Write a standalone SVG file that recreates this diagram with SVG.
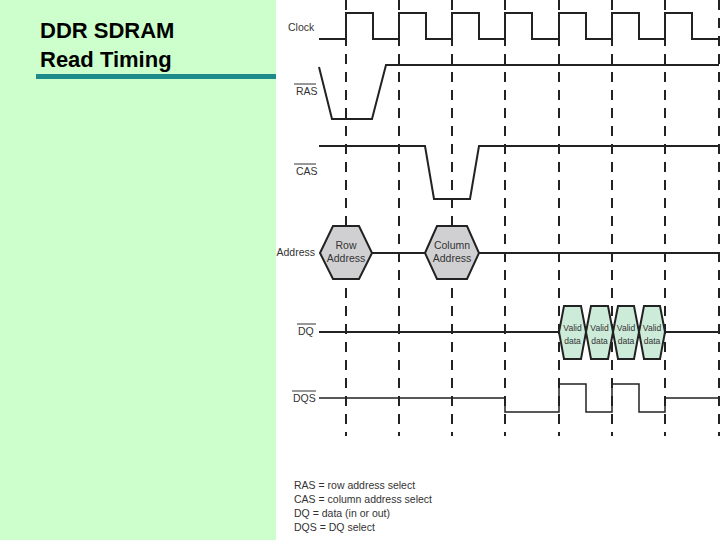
<svg xmlns="http://www.w3.org/2000/svg" width="720" height="540" viewBox="0 0 720 540">
<style>
.t{font-family:"Liberation Sans",Arial,sans-serif;font-size:10.5px;fill:#333}
.w{fill:none;stroke:#222;stroke-width:2}
.d{stroke:#222;stroke-width:2;stroke-dasharray:10,8}
.ov{stroke:#333;stroke-width:1}
</style>
<rect width="720" height="540" fill="#ccffcc"/>
<rect x="276" y="0" width="444" height="540" fill="#fff"/>
<g id="title">
<text x="40" y="38" font-family="Liberation Sans,Arial,sans-serif" font-weight="bold" font-size="22" fill="#000">DDR SDRAM</text>
<text x="40" y="67" font-family="Liberation Sans,Arial,sans-serif" font-weight="bold" font-size="22" fill="#000">Read Timing</text>
<rect x="36" y="74" width="240" height="5" fill="#1f8a8a"/>
</g>
<g id="grid">
<line class="d" x1="346" y1="0" x2="346" y2="436"/>
<line class="d" x1="399" y1="0" x2="399" y2="436"/>
<line class="d" x1="452" y1="0" x2="452" y2="436"/>
<line class="d" x1="505" y1="0" x2="505" y2="436"/>
<line class="d" x1="559" y1="0" x2="559" y2="436"/>
<line class="d" x1="612" y1="0" x2="612" y2="436"/>
<line class="d" x1="665" y1="0" x2="665" y2="436"/>
<line class="d" x1="719" y1="0" x2="719" y2="436"/>
</g>
<g id="clock">
<text class="t" x="288" y="31">Clock</text>
<path class="w" d="M319 39H346V13H373V39H399V13H426V39H452V13H479V39H505V13H532V39H559V13H586V39H612V13H639V39H665V13H692V39H719"/>
</g>
<g id="ras">
<text class="t" x="296" y="95">RAS</text><line class="ov" x1="294" y1="84" x2="316" y2="84"/>
<path class="w" d="M319 67L332 119H372L386 65H719"/>
</g>
<g id="cas">
<text class="t" x="296" y="175">CAS</text><line class="ov" x1="294" y1="164" x2="316" y2="164"/>
<path class="w" d="M319 146H425L434 199H470L479 146H719"/>
</g>
<g id="address">
<text class="t" x="315" y="256" text-anchor="end">Address</text>
<path class="w" d="M372 253H425M479 253H719"/>
<path d="M320 253L333 226H359L372 253L359 279H333Z" fill="#d0d0d2" stroke="#222" stroke-width="2"/>
<path d="M425 253L437 226H467L479 253L467 279H437Z" fill="#d0d0d2" stroke="#222" stroke-width="2"/>
<text class="t" x="346" y="249" text-anchor="middle">Row</text>
<text class="t" x="346" y="262" text-anchor="middle">Address</text>
<text class="t" x="452" y="249" text-anchor="middle">Column</text>
<text class="t" x="452" y="262" text-anchor="middle">Address</text>
</g>
<g id="dq">
<text class="t" x="298" y="335">DQ</text><line class="ov" x1="297" y1="324" x2="316" y2="324"/>
<path class="w" d="M319 332H559M665 332H719"/>
<g fill="#cdebd9" stroke="#222" stroke-width="2">
<path d="M559 332L564 306H581L586 332L581 359H564Z"/>
<path d="M586 332L591 306H608L613 332L608 359H591Z"/>
<path d="M613 332L618 306H634L639 332L634 359H618Z"/>
<path d="M639 332L644 306H660L665 332L660 359H644Z"/>
</g>
<g class="t" text-anchor="middle" style="font-size:8.5px">
<text x="572.5" y="331">Valid</text><text x="572.5" y="344">data</text>
<text x="599.5" y="331">Valid</text><text x="599.5" y="344">data</text>
<text x="626" y="331">Valid</text><text x="626" y="344">data</text>
<text x="652" y="331">Valid</text><text x="652" y="344">data</text>
</g>
</g>
<g id="dqs">
<text class="t" x="293" y="402">DQS</text><line class="ov" x1="292" y1="391" x2="316" y2="391"/>
<path d="M319 398H505V412H559V384H586V412H612V384H639V412H665V398H719" fill="none" stroke="#222" stroke-width="1.5"/>
</g>
<g id="legend" class="t" font-size="11">
<text x="294" y="489">RAS =  row address select</text>
<text x="294" y="503">CAS = column address select</text>
<text x="294" y="517">DQ = data (in or out)</text>
<text x="294" y="531">DQS = DQ select</text>
</g>
</svg>
